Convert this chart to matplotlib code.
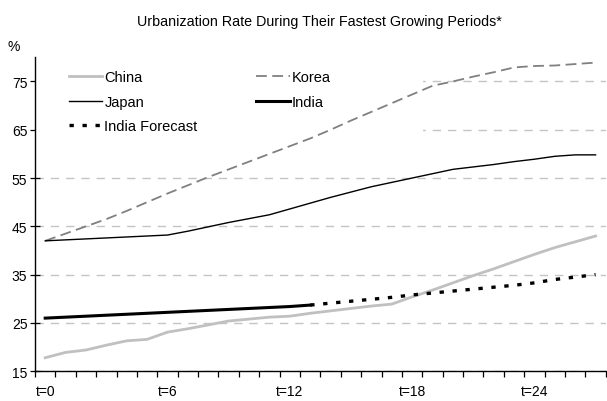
import matplotlib
matplotlib.use("Agg")
import matplotlib.pyplot as plt
from matplotlib.patches import Rectangle

plt.rcParams['font.family'] = ['Liberation Sans', 'DejaVu Sans']

# Years since the start of each country's fastest urbanizing period
periods = list(range(28))
tick_labels = ["t=0", "t=6", "t=12", "t=18", "t=24"]
tick_positions = [0, 6, 12, 18, 24]

china = [17.8, 18.9, 19.4, 20.4, 21.3, 21.6, 23.1, 23.8, 24.6, 25.4,
         25.8, 26.2, 26.4, 27.0, 27.5, 28.0, 28.5, 28.9, 30.4, 31.8,
         33.3, 34.8, 36.2, 37.7, 39.2, 40.6, 41.8, 43.0]
korea = [42.0, 43.5, 45.0, 46.5, 48.2, 50.0, 51.8, 53.5, 55.2, 56.8,
         58.4, 60.0, 61.6, 63.2, 65.0, 66.9, 68.7, 70.5, 72.3, 74.1,
         75.0, 76.0, 76.9, 77.9, 78.2, 78.3, 78.6, 78.9]
japan = [42.0, 42.2, 42.4, 42.6, 42.8, 43.0, 43.2, 44.0, 44.9, 45.8,
         46.6, 47.4, 48.6, 49.8, 51.0, 52.1, 53.2, 54.1, 55.0, 55.9,
         56.8, 57.3, 57.8, 58.4, 58.9, 59.5, 59.8, 59.8]
india = [26.0, 26.2, 26.4, 26.6, 26.8, 27.0, 27.2, 27.4, 27.6, 27.8,
         28.0, 28.2, 28.4, 28.7]
india_forecast = [28.7, 29.1, 29.5, 29.9, 30.3, 30.8, 31.2, 31.6, 32.0,
                  32.4, 32.8, 33.3, 34.0, 34.5, 35.0]

fig = plt.figure(figsize=(6.07, 4.02), dpi=100)
ax = fig.add_axes([0.0577, 0.074, 0.9403, 0.781])

# dashed horizontal gridlines
ax.set_axisbelow(True)
ax.yaxis.grid(True, color="#c4c4c4", linestyle=(0, (6, 5)), linewidth=1.0)

# white panel behind the legend, beneath the series lines
ax.add_patch(Rectangle((0.0, 0.66), 0.68, 0.34, transform=ax.transAxes,
                       facecolor="white", edgecolor="none", zorder=1.5))

n_india = len(india)
ax.plot(periods, china, color="#c0c0c0", lw=2.0, label="China", zorder=3)
ax.plot(periods, korea, color="#808080", lw=1.3, linestyle=(0, (6, 3)),
        label="Korea", zorder=3)
ax.plot(periods, japan, color="black", lw=1.0, label="Japan", zorder=3)
ax.plot(periods[:n_india], india, color="black", lw=2.2, label="India",
        zorder=4)
ax.plot(periods[n_india - 1:], india_forecast, color="black", lw=2.4,
        linestyle=(0, (1.3, 2.6)), label="India Forecast", zorder=4)

ax.set_xlim(-0.5, 27.5)
ax.set_ylim(15, 80)
ax.set_yticks([15, 25, 35, 45, 55, 65, 75])

# tick marks at category boundaries, labels at category centres
ax.set_xticks([i - 0.5 for i in range(29)])
ax.set_xticklabels([])
ax.set_xticks(tick_positions, minor=True)
ax.set_xticklabels(tick_labels, minor=True)
ax.tick_params(axis="x", which="major", direction="out", length=4,
               width=0.9, color="black")
ax.tick_params(axis="x", which="minor", length=0, pad=9, labelsize=10)
ax.tick_params(axis="y", direction="inout", length=7, width=0.9, pad=2,
               labelsize=10)

for side in ("top", "right"):
    ax.spines[side].set_visible(False)
for side in ("left", "bottom"):
    ax.spines[side].set_linewidth(1.0)
    ax.spines[side].set_color("black")

handles, labels = ax.get_legend_handles_labels()
order = [0, 2, 4, 1, 3]
leg = ax.legend([handles[i] for i in order], [labels[i] for i in order],
                ncol=2, frameon=False, fontsize=10.5, loc="upper left",
                bbox_to_anchor=(0.036, 1.0), handlelength=2.3,
                handletextpad=0.15, columnspacing=4.0, labelspacing=0.72)

fig.text(0.527, 0.945, "Urbanization Rate During Their Fastest Growing Periods*",
         ha="center", va="center", fontsize=10.3)
fig.text(0.023, 0.884, "%", ha="center", va="center", fontsize=10)

fig.savefig("out.png", dpi=100)
